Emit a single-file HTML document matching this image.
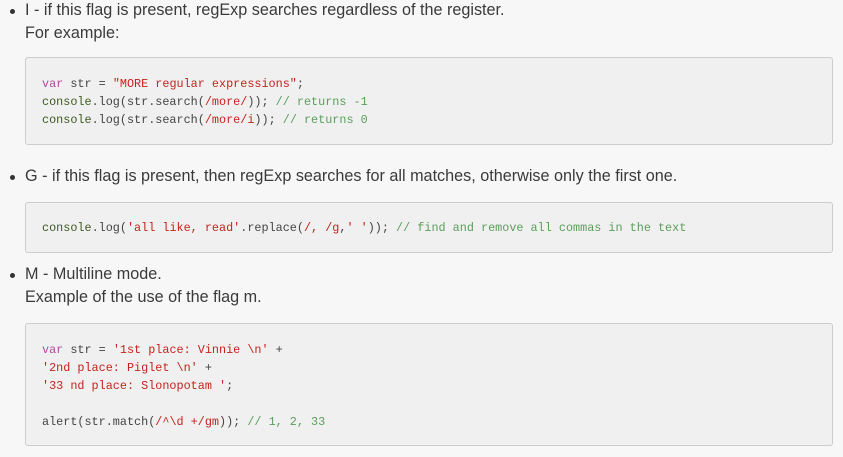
<!DOCTYPE html>
<html><head><style>
body{margin:0;background:#f7f7f7;width:843px;height:457px;overflow:hidden;font-family:"Liberation Sans",sans-serif;color:#3a3a3a;}
.t{position:absolute;left:25px;font-size:16.2px;line-height:23px;letter-spacing:0}
.b{position:absolute;left:10px;width:5px;height:5px;border-radius:50%;background:#333}
.box{position:absolute;left:25px;width:808px;background:#f0f0f0;border:1px solid #ccc;border-radius:3px;box-sizing:border-box}
pre{margin:0;position:absolute;left:16px;font-family:"Liberation Mono",monospace;font-size:11.8px;line-height:18px;color:#444}
.k{color:#b04a9e}.s{color:#c4231c}.c{color:#5a9e5a}.f{color:#3d5a1e}
</style></head><body>
<div class="b" style="top:9px"></div>
<div class="t" style="top:-1px">I - if this flag is present, regExp searches regardless of the register.<br>For example:</div>
<div class="box" style="top:57px;height:88px"><pre style="top:17px"><span class="k">var</span> str = <span class="s">"MORE regular expressions"</span>;
<span class="f">console</span>.log(str.search(<span class="s">/more/</span>)); <span class="c">// returns -1</span>
<span class="f">console</span>.log(str.search(<span class="s">/more/i</span>)); <span class="c">// returns 0</span></pre></div>
<div class="b" style="top:175px"></div>
<div class="t" style="top:165px">G - if this flag is present, then regExp searches for all matches, otherwise only the first one.</div>
<div class="box" style="top:202px;height:51px"><pre style="top:16px"><span class="f">console</span>.log(<span class="s">'all like, read'</span>.replace(<span class="s">/, /g</span>,<span class="s">' '</span>)); <span class="c">// find and remove all commas in the text</span></pre></div>
<div class="b" style="top:273px"></div>
<div class="t" style="top:263px">M - Multiline mode.<br>Example of the use of the flag m.</div>
<div class="box" style="top:323px;height:123px"><pre style="top:17px"><span class="k">var</span> str = <span class="s">'1st place: Vinnie \n'</span> +
<span class="s">'2nd place: Piglet \n'</span> +
<span class="s">'33 nd place: Slonopotam '</span>;

alert(str.match(<span class="s">/^\d +/gm</span>)); <span class="c">// 1, 2, 33</span></pre></div>
</body></html>
